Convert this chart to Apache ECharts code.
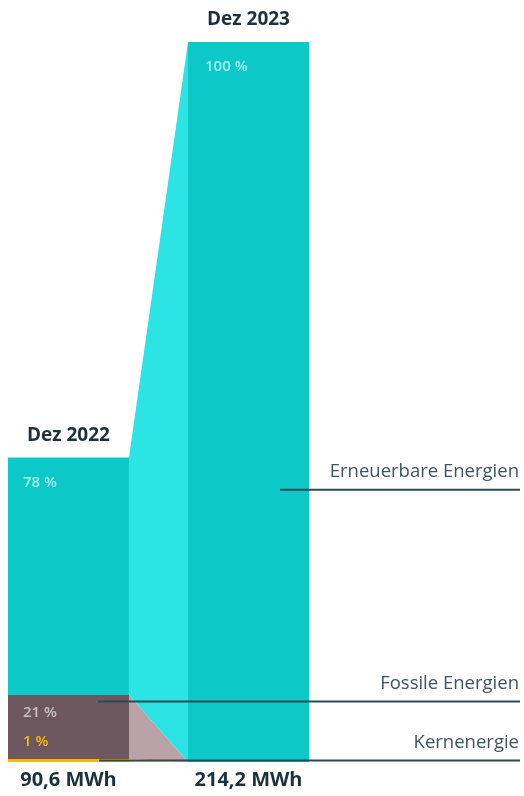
<!DOCTYPE html>
<html>
<head>
<meta charset="utf-8">
<script src="https://cdn.jsdelivr.net/npm/echarts@6/dist/echarts.min.js"></script>
<style>
  html, body { margin: 0; padding: 0; background: #ffffff; }
  #chart { width: 524px; height: 796px; }
</style>
</head>
<body>
<div id="chart"></div>
<script>
// Strommix: Anteile der Energiequellen, Dez 2022 vs. Dez 2023
const categories = ['Dez 2022', 'Dez 2023'];
const totals = [90.6, 214.2];                 // MWh
const totalLabels = ['90,6 MWh', '214,2 MWh'];
const sources = ['Kernenergie', 'Fossile Energien', 'Erneuerbare Energien'];
const shares2022 = [1, 21, 78];               // %
const shares2023 = [0, 0, 100];               // %
const shareLabels2022 = ['1 %', '21 %', '78 %'];
const shareLabels2023 = ['', '', '100 %'];

const barColors  = ['#f6b900', '#6e5860', '#0cc8c7'];
const flowColors = ['#f8e39a', '#b9a2a8', '#2ce4e3'];
const shareTextColors = ['#f6b900', '#c9bdc1', '#a6f1ef'];
const inkColor = '#1b323c';
const leaderColor = '#2d4953';
const FONT = '"Open Sans", "Noto Sans", sans-serif';
const HALF = 0.336;   // half bar width in x-axis units

// Stack the shares of each year into absolute MWh intervals
function stack(total, shares) {
  let acc = 0;
  return shares.map(s => {
    const v = total * s / 100;
    const seg = [acc, acc + v];
    acc += v;
    return seg;
  });
}
const stacks = [stack(totals[0], shares2022), stack(totals[1], shares2023)];
const shareLabels = [shareLabels2022, shareLabels2023];

const barData = [];
stacks.forEach((st, b) => st.forEach((seg, s) => barData.push([b, seg[0], seg[1], s])));
const flowData = sources.map((_, s) => [stacks[0][s][0], stacks[0][s][1], stacks[1][s][0], stacks[1][s][1], s]);

const chart = echarts.init(document.getElementById('chart'), null, { renderer: 'canvas' });

chart.setOption({
  animation: false,
  backgroundColor: '#ffffff',
  grid: { left: 8, width: 301, top: 42, bottom: 34, containLabel: false },
  xAxis: { type: 'value', min: -HALF, max: 1 + HALF, show: false },
  yAxis: { type: 'value', min: 0, max: totals[1], show: false },
  series: [
    {
      type: 'custom',
      name: 'flows',
      coordinateSystem: 'cartesian2d',
      data: flowData,
      renderItem: function (params, api) {
        const a0 = api.value(0), a1 = api.value(1), b0 = api.value(2), b1 = api.value(3), s = api.value(4);
        const pts = [
          api.coord([HALF, a0]), api.coord([HALF, a1]),
          api.coord([1 - HALF, b1]), api.coord([1 - HALF, b0])
        ];
        return { type: 'polygon', shape: { points: pts }, style: { fill: flowColors[s] } };
      }
    },
    {
      type: 'custom',
      name: 'bars',
      coordinateSystem: 'cartesian2d',
      data: barData,
      renderItem: function (params, api) {
        const b = api.value(0), y0 = api.value(1), y1 = api.value(2), s = api.value(3);
        if (y1 <= y0) return null;
        const p1 = api.coord([b - HALF, y1]);
        const p2 = api.coord([b + HALF, y0]);
        const children = [{
          type: 'rect',
          shape: { x: p1[0], y: p1[1], width: p2[0] - p1[0], height: p2[1] - p1[1] },
          style: { fill: barColors[s] }
        }];
        const txt = shareLabels[b][s];
        if (txt) {
          let ty;
          if (s === 0) ty = p1[1] - 17;        // small share: above the strip
          else if (s === 1) ty = p1[1] + 18;
          else ty = p1[1] + 25;
          children.push({
            type: 'text',
            style: {
              text: txt, x: p1[0] + (b === 0 ? 15 : 17), y: ty,
              fill: shareTextColors[s], font: '600 15px ' + FONT,
              align: 'left', verticalAlign: 'middle'
            },
            z2: 10
          });
        }
        // year on top, total below the column
        if (s === sources.length - 1) {
          const cx = api.coord([b, 0])[0];
          const top = api.coord([b, totals[b]])[1];
          const base = api.coord([b, 0])[1];
          children.push({
            type: 'text',
            style: { text: categories[b], x: cx, y: top - 22, fill: inkColor,
                     font: '700 19px ' + FONT, align: 'center', verticalAlign: 'middle' }
          });
          children.push({
            type: 'text',
            style: { text: totalLabels[b], x: cx, y: base + 18, fill: inkColor,
                     font: '700 20px ' + FONT, align: 'center', verticalAlign: 'middle' }
          });
        }
        return { type: 'group', children: children };
      }
    }
  ]
});

// Leader lines with source names on the right
const kernY = chart.convertToPixel({ gridIndex: 0 }, [0, (stacks[0][0][0] + stacks[0][0][1]) / 2])[1];
const fossY = chart.convertToPixel({ gridIndex: 0 }, [0, stacks[0][1][1] - (stacks[0][1][1] - stacks[0][1][0]) * 0.1])[1];
const erneuY = chart.convertToPixel({ gridIndex: 0 }, [0, totals[1] * 0.378])[1];
const leaders = [
  { name: sources[2], y: erneuY, x0: 280 },
  { name: sources[1], y: fossY, x0: 98 },
  { name: sources[0], y: kernY, x0: 99 }
];
const graphics = [];
leaders.forEach(l => {
  graphics.push({
    type: 'line', shape: { x1: l.x0, y1: l.y, x2: 520, y2: l.y },
    style: { stroke: leaderColor, lineWidth: 2 }, z: 100
  });
  graphics.push({
    type: 'text', x: 519, y: l.y - 18,
    style: { text: l.name, fill: '#3b5660', font: '400 18.5px ' + FONT,
             align: 'right', verticalAlign: 'middle' }, z: 100
  });
});
chart.setOption({ graphic: graphics });
</script>
</body>
</html>
